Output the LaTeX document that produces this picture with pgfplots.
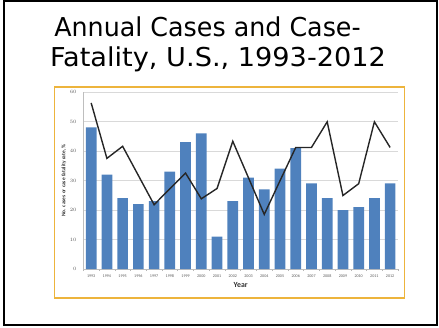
\documentclass[border=0pt]{standalone}
\usepackage{pgfplots}
\pgfplotsset{compat=1.18}
\usepackage{fontspec}
\setmainfont{DejaVu Sans}
\newfontfamily\calfont{Carlito}
\definecolor{barblue}{HTML}{4F81BD}
\definecolor{framegold}{HTML}{EDB43C}
\definecolor{gridgray}{HTML}{D9D9D9}
\definecolor{txtgray}{HTML}{595959}
\begin{document}
\begin{tikzpicture}
\path (0,0) rectangle (439bp,-328bp);
\draw[line width=2.2bp] (4.2bp,-1.3bp) rectangle (436.8bp,-325.2bp);
\node[anchor=base, inner sep=0pt, xscale=0.975, font=\fontsize{26bp}{30bp}\selectfont] at (207.5bp,-36.7bp) {Annual Cases and Case-};
\node[anchor=base, inner sep=0pt, xscale=1.045, font=\fontsize{26bp}{30bp}\selectfont] at (218bp,-66.5bp) {Fatality, U.S., 1993-2012};
\draw[framegold, line width=1.6bp] (54.3bp,-87.2bp) rectangle (404.3bp,-297.8bp);
\begin{axis}[
  at={(83.3bp,-269bp)}, anchor=south west,
  scale only axis, width=314.7bp, height=177bp,
  xmin=-0.5, xmax=19.5, ymin=0, ymax=60,
  ytick={0,10,...,60},
  xtick={0,...,19},
  xticklabels={1993,1994,1995,1996,1997,1998,1999,2000,2001,2002,2003,2004,2005,2006,2007,2008,2009,2010,2011,2012},
  minor xtick={-0.5,0.5,...,19.5},
  tick align=outside,
  major tick length=0pt,
  minor tick length=2bp,
  ymajorgrids,
  grid style={gridgray, line width=0.7bp},
  minor tick style={gridgray!60!gray, line width=0.5bp},
  axis x line*=bottom,
  axis y line*=left,
  axis line style={gridgray!70!gray, line width=0.6bp},
  x axis line style={-},
  y axis line style={-},
  xticklabel style={font=\calfont\fontsize{4.1bp}{5bp}\selectfont, text=txtgray, inner sep=0pt, anchor=north, yshift=-5.5bp},
  yticklabel style={font=\calfont\fontsize{4.5bp}{5bp}\selectfont, text=txtgray, inner sep=0pt, anchor=east, xshift=-6.5bp},
  xlabel={Year},
  ylabel={No. cases or case fatality rate, \%},
  xlabel style={font=\calfont\bfseries\fontsize{7.8bp}{9bp}\selectfont, text=black!80, inner sep=0pt, anchor=north, at={([yshift=-13.5bp]axis description cs:0.5,0)}},
  ylabel style={font=\calfont\bfseries\fontsize{5.4bp}{6bp}\selectfont, text=black!80, inner sep=0pt, anchor=south, rotate=0, at={([xshift=-17bp]axis description cs:0,0.5)}},
  clip=false,
]
\addplot[ybar, bar width=10.7bp, fill=barblue, draw=none] coordinates {
(0,48) (1,32) (2,24) (3,22) (4,23) (5,33) (6,43) (7,46) (8,11) (9,23)
(10,31) (11,27) (12,34) (13,41) (14,29) (15,24) (16,20) (17,21) (18,24) (19,29)};
\addplot[black!85, line width=1.4bp, mark=none] coordinates {
(0,56.3) (1,37.5) (2,41.6) (3,31.7) (4,21.8) (5,27.2) (6,32.5) (7,23.8) (8,27.3) (9,43.3)
(10,30.9) (11,18.5) (12,29.9) (13,41.2) (14,41.2) (15,49.9) (16,24.9) (17,28.9) (18,49.9) (19,41.2)};
\end{axis}
\end{tikzpicture}
\end{document}
